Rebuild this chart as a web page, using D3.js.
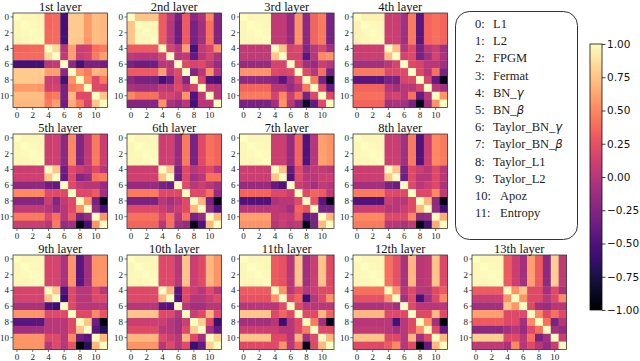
<!DOCTYPE html>
<html><head><meta charset="utf-8">
<script src="https://cdn.jsdelivr.net/npm/d3@7"></script>
<style>
html,body{margin:0;padding:0;background:#fff;}
svg{display:block;}
</style></head>
<body>
<svg id="chart" width="640" height="361"></svg>
<script>
// ---------- DATA (upper triangles: row i lists values for columns i+1..11) ----------
const criteria = ["L1","L2","FPGM","Fermat","BN_γ","BN_β","Taylor_BN_γ","Taylor_BN_β","Taylor_L1","Taylor_L2","Apoz","Entropy"];
const titles = ["1st layer","2nd layer","3rd layer","4th layer","5th layer","6th layer","7th layer","8th layer","9th layer","10th layer","11th layer","12th layer","13th layer"];
const axisTicks = [0,2,4,6,8,10];
const colorbarTicks = [1.00,0.75,0.50,0.25,0.00,-0.25,-0.50,-0.75,-1.00];

const layer1 = [
 [.97,.97,.96,.35,.38,-.55,.78,.78,.58,.72,.70],
 [.98,.97,.35,.38,-.55,.78,.78,.58,.72,.70],
 [.98,.36,.38,-.55,.78,.78,.58,.72,.70],
 [.36,.38,-.55,.78,.76,.56,.72,.70],
 [.85,0,.6,.1,.12,.4,.45],
 [.05,.6,.1,.15,.45,.6],
 [-.2,-.55,-.3,-.3,-.35],
 [.55,.45,.7,.65],
 [.5,.2,.45],
 [.2,.15],
 [.75]];
const layer2 = [
 [.75,.75,.75,.3,.05,-.3,.3,-.2,-.05,.5,-.25],
 [.97,.97,.3,0,-.35,.3,-.3,-.1,.4,-.25],
 [.97,.3,0,-.35,.3,-.3,-.1,.4,-.25],
 [.3,0,-.35,.3,-.3,-.1,.4,-.25],
 [.15,0,.6,-.55,.05,.15,.55],
 [0,.05,-.4,0,.15,-.05],
 [.2,.15,.2,.05,-.15],
 [-.25,0,.55,0],
 [.15,-.5,-.55],
 [.05,0],
 [0]];
const layer3 = [
 [.97,.97,.97,.05,.05,-.15,.55,-.2,.35,.45,-.3],
 [.98,.97,.05,.05,-.15,.55,-.2,.35,.45,-.3],
 [.98,.05,.05,-.15,.55,-.2,.35,.45,-.3],
 [.05,.05,-.15,.55,-.2,.35,.45,-.3],
 [.75,.15,.2,-.25,0,.15,-.1],
 [.15,.15,-.45,0,.5,.55],
 [.2,-.1,-.15,.1,0],
 [.2,0,.4,-.3],
 [.45,-.3,-.85],
 [.2,-.4],
 [.2]];
const layer4 = [
 [.95,.95,.95,.1,.1,-.1,.45,-.45,.35,.4,.35],
 [.98,.97,.1,.1,-.1,.45,-.45,.35,.4,.35],
 [.98,.1,.1,-.1,.45,-.45,.35,.4,.35],
 [.1,.1,-.1,.45,-.45,.35,.4,.35],
 [.72,0,.2,-.3,0,.1,-.1],
 [.15,.2,-.3,-.1,.15,-.05],
 [.2,.15,0,0,-.1],
 [.2,0,.4,-.3],
 [.15,-.4,-.9],
 [0,-.1],
 [.55]];
const layer5 = [
 [.97,.97,.97,.1,.12,-.2,.5,-.25,.05,.45,.1],
 [.98,.97,.1,.12,-.2,.5,-.25,.05,.45,.1],
 [.98,.1,.12,-.2,.5,-.25,.05,.45,.1],
 [.1,.12,-.2,.5,-.25,.05,.45,.1],
 [.75,-.35,.2,.1,0,.2,0],
 [-.4,.2,-.25,-.15,.4,.45],
 [.2,.05,0,0,-.15],
 [.2,.2,.3,-.1],
 [.55,-.3,-.9],
 [-.15,-.55],
 [.55]];
const layer6 = [
 [.97,.97,.97,.1,.12,-.15,.45,-.3,.2,.4,.35],
 [.98,.97,.1,.12,-.15,.45,-.3,.2,.4,.35],
 [.98,.1,.12,-.15,.45,-.3,.2,.4,.35],
 [.1,.12,-.15,.45,-.3,.2,.4,.35],
 [.75,-.3,.2,0,.1,.2,0],
 [-.35,.2,-.1,0,.4,.4],
 [.2,0,.1,0,-.1],
 [.2,.2,.4,-.15],
 [.7,-.3,-.9],
 [-.15,-.5],
 [.7]];
const layer7 = [
 [.97,.97,.97,.1,.1,-.15,.35,-.5,0,.6,.55],
 [.98,.97,.1,.1,-.15,.35,-.5,0,.6,.55],
 [.98,.1,.1,-.15,.35,-.5,0,.6,.55],
 [.1,.1,-.15,.35,-.5,0,.6,.55],
 [.75,-.4,.2,-.05,.05,.05,0],
 [-.5,.2,0,0,.1,.1],
 [.1,0,-.1,.05,0],
 [.2,.35,.3,.05],
 [.25,-.45,-.9],
 [-.3,-.3],
 [.7]];
const layer8 = [
 [.97,.97,.97,.1,.1,-.1,.45,-.5,.1,.5,.45],
 [.98,.97,.1,.1,-.1,.45,-.5,.1,.5,.45],
 [.98,.1,.1,-.1,.45,-.5,.1,.5,.45],
 [.1,.1,-.1,.45,-.5,.1,.5,.45],
 [.75,-.3,.2,.1,0,.2,0],
 [-.35,.2,0,0,.2,0],
 [.2,0,.1,.2,-.05],
 [.2,.2,.5,.05],
 [.7,-.2,-.9],
 [-.15,-.55],
 [.65]];
const layer9 = [
 [.97,.97,.97,.15,.15,-.05,.55,-.45,-.1,.55,.55],
 [.98,.97,.15,.15,-.05,.55,-.45,-.1,.55,.55],
 [.98,.15,.15,-.05,.55,-.45,-.1,.55,.55],
 [.15,.15,-.05,.55,-.45,-.1,.55,.55],
 [.75,-.5,.2,0,0,.2,0],
 [-.6,.2,0,0,.2,.2],
 [.2,0,0,0,0],
 [.2,.2,.5,.25],
 [.75,-.35,-.95],
 [-.45,-.7],
 [.7]];
const layer10 = [
 [.97,.97,.97,.2,.2,0,.75,.1,.2,.7,.55],
 [.98,.97,.2,.2,0,.75,.1,.2,.7,.55],
 [.98,.2,.2,0,.75,.1,.2,.7,.55],
 [.2,.2,0,.75,.1,.2,.7,.55],
 [.7,-.45,.2,.1,0,.2,0],
 [-.5,.2,0,0,.1,.2],
 [0,-.1,-.1,0,0],
 [.1,.2,.7,.2],
 [.8,.2,-.6],
 [-.1,-.4],
 [.8]];
const layer11 = [
 [.97,.97,.97,.3,.25,0,.75,-.1,.1,.75,.2],
 [.98,.97,.3,.25,0,.75,-.1,.1,.75,.2],
 [.98,.3,.25,0,.75,-.1,.1,.75,.2],
 [.3,.25,0,.75,-.1,.1,.75,.2],
 [.55,0,.2,0,.1,.2,.2],
 [.2,.35,-.6,0,.2,.55],
 [.2,0,0,0,0],
 [.2,.2,.7,.35],
 [.45,-.1,-.9],
 [.2,.2],
 [.7]];
const layer12 = [
 [.97,.97,.97,.4,.25,-.05,.7,0,.05,.75,.2],
 [.98,.97,.4,.25,-.05,.7,0,.05,.75,.2],
 [.98,.4,.25,-.05,.7,0,.05,.75,.2],
 [.4,.25,-.05,.7,0,.05,.75,.2],
 [.55,0,.2,0,0,.2,.3],
 [-.1,.2,-.55,-.1,.2,.5],
 [.2,0,0,0,0],
 [.2,.2,.7,.2],
 [.55,-.1,-.95],
 [.2,-.4],
 [.7]];
const layer13 = [
 [.97,.97,.97,.3,.1,-.1,.6,.3,-.2,.8,.05],
 [.98,.97,.3,.1,-.1,.6,.3,-.2,.8,.05],
 [.98,.3,.1,-.1,.6,.3,-.2,.8,.05],
 [.3,.1,-.1,.6,.3,-.2,.8,.05],
 [.55,.75,.2,.2,-.1,.2,-.05],
 [.55,.2,.2,0,.2,.5],
 [.2,-.1,-.15,0,0],
 [.5,.2,.4,.2],
 [.4,-.3,0],
 [-.1,-.15],
 [.1]];

const layerData = [layer1,layer2,layer3,layer4,layer5,layer6,layer7,layer8,layer9,layer10,layer11,layer12,layer13];

// ---------- DRAW ----------
const svg = d3.select("#chart");
const n = 12;
const size = 94.5;
const color = d3.scaleSequential(d3.interpolateMagma).domain([-1, 1]);
const colLefts = [13, 127, 239.5, 353];
const rowTops = [13, 134, 255];
const panelPos = titles.map((t, k) => k < 12 ? [colLefts[k % 4], rowTops[Math.floor(k / 4)]] : [472, 255]);

function fullMatrix(upper) {
  const m = d3.range(n).map(() => new Array(n).fill(1));
  upper.forEach((row, i) => row.forEach((v, k) => { const j = i + 1 + k; m[i][j] = v; m[j][i] = v; }));
  return m;
}

const band = d3.scaleBand().domain(d3.range(n)).range([0, size]);

layerData.forEach((upper, k) => {
  const m = fullMatrix(upper);
  const [x0, y0] = panelPos[k];
  const g = svg.append("g").attr("transform", `translate(${x0},${y0})`);
  const cells = [];
  m.forEach((row, i) => row.forEach((v, j) => cells.push({i, j, v})));
  g.selectAll("rect.cell").data(cells).enter().append("rect")
    .attr("class", "cell")
    .attr("x", d => band(d.j)).attr("y", d => band(d.i))
    .attr("width", band.bandwidth() + 0.3).attr("height", band.bandwidth() + 0.3)
    .attr("fill", d => color(d.v));
  g.append("rect").attr("width", size).attr("height", size)
    .attr("fill", "none").attr("stroke", "#3a3a3a").attr("stroke-width", 0.8);

  const yAxis = d3.axisLeft(band).tickValues(axisTicks).tickSize(2.5).tickPadding(1.5);
  const ya = g.append("g").call(yAxis);
  const xAxis = d3.axisBottom(band).tickValues(axisTicks).tickSize(2.5).tickPadding(1.5);
  const xa = g.append("g").attr("transform", `translate(0,${size})`).call(xAxis);
  [ya, xa].forEach(a => {
    a.select(".domain").remove();
    a.selectAll("line").attr("stroke", "#333").attr("stroke-width", 0.7);
    a.selectAll("text").attr("font-family", "Liberation Serif, Times New Roman, serif")
      .attr("font-size", 9).attr("fill", "#222");
  });

  g.append("text").attr("x", size / 2).attr("y", -1.8)
    .attr("text-anchor", "middle")
    .attr("font-family", "Liberation Serif, Times New Roman, serif")
    .attr("font-size", 12.5).attr("fill", "#111")
    .text(titles[k]);
});

// ---------- LEGEND BOX ----------
const lg = svg.append("g");
lg.append("rect").attr("x", 455.5).attr("y", 11.5).attr("width", 122).attr("height", 228)
  .attr("rx", 14).attr("ry", 14).attr("fill", "#fff").attr("stroke", "#333").attr("stroke-width", 1);
criteria.forEach((c, i) => {
  const y = 28 + i * 17.2;
  const t = lg.append("text").attr("y", y)
    .attr("font-family", "Liberation Serif, Times New Roman, serif")
    .attr("font-size", 12.5).attr("fill", "#222");
  t.append("tspan").attr("x", 475).text(i + ":");
  const lx = i >= 10 ? 500 : 493;
  const parts = c.match(/^(.*_)([γβ])$/);
  if (parts) {
    t.append("tspan").attr("x", lx).text(parts[1]);
    t.append("tspan").attr("font-style", "italic").attr("font-family", "DejaVu Sans, sans-serif").attr("font-size", 11.5).text(parts[2]);
  } else {
    t.append("tspan").attr("x", lx).text(c);
  }
});

// ---------- COLORBAR ----------
const cbX = 590, cbW = 12, cbTop = 44, cbBot = 310;
const cbScale = d3.scaleLinear().domain([-1, 1]).range([cbBot, cbTop]);
const defs = svg.append("defs");
const grad = defs.append("linearGradient").attr("id", "cbgrad")
  .attr("x1", 0).attr("y1", 1).attr("x2", 0).attr("y2", 0);
d3.range(0, 1.0001, 0.02).forEach(t => grad.append("stop").attr("offset", t).attr("stop-color", d3.interpolateMagma(t)));
svg.append("rect").attr("x", cbX).attr("y", cbTop).attr("width", cbW).attr("height", cbBot - cbTop)
  .attr("fill", "url(#cbgrad)").attr("stroke", "#111").attr("stroke-width", 0.8);
const cbAxis = d3.axisRight(cbScale).tickValues(colorbarTicks).tickFormat(d3.format(".2f")).tickSize(3.5).tickPadding(1.5);
const cba = svg.append("g").attr("transform", `translate(${cbX + cbW},0)`).call(cbAxis);
cba.select(".domain").remove();
cba.selectAll("line").attr("stroke", "#111").attr("stroke-width", 0.8);
cba.selectAll("text").attr("font-family", "DejaVu Sans, sans-serif").attr("font-size", 10.5).attr("fill", "#111");
</script>
</body></html>
